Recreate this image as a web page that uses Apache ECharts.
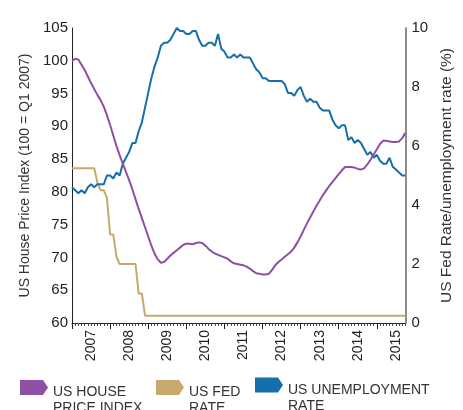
<!DOCTYPE html>
<html>
<head>
<meta charset="utf-8">
<script src="https://cdn.jsdelivr.net/npm/echarts@6/dist/echarts.min.js"></script>
<style>
html,body{margin:0;padding:0;background:#fff;}
#chart{width:463px;height:410px;}
</style>
</head>
<body>
<div id="chart"></div>
<script>
// Year labels for the x axis (monthly data Jan 2007 - Oct 2015)
var years = ['2007','2008','2009','2010','2011','2012','2013','2014','2015'];
var monthsInLastYear = 10;

// US House Price Index (100 = Q1 2007), monthly
var housePrice = [
  100.0,100.3,100.2,99.4,98.6,97.6,96.6,95.7,94.8,94.0,93.0,91.7,
  90.2,88.6,87.0,85.6,84.3,83.0,81.8,80.4,78.9,77.4,76.0,74.6,
  73.2,71.8,70.6,69.7,69.2,69.3,69.8,70.3,70.7,71.1,71.5,71.9,
  72.1,72.1,72.0,72.2,72.3,72.2,71.8,71.3,70.9,70.6,70.4,70.2,
  70.0,69.8,69.4,69.1,69.0,68.9,68.8,68.6,68.3,67.9,67.6,67.5,
  67.4,67.4,67.5,68.1,68.8,69.3,69.7,70.1,70.5,70.9,71.5,72.3,
  73.2,74.2,75.2,76.1,77.0,77.9,78.7,79.5,80.2,80.9,81.5,82.1,
  82.7,83.3,83.8,83.8,83.8,83.7,83.5,83.4,83.6,84.2,84.9,85.7,
  86.5,87.3,87.8,87.8,87.7,87.6,87.6,87.7,88.2,89.0
];

// US Fed rate (%), monthly
var fedRate = [
  5.25,5.25,5.25,5.25,5.25,5.25,5.25,5.25,4.75,4.5,4.5,4.25,
  3.0,3.0,2.25,2.0,2.0,2.0,2.0,2.0,2.0,1.0,1.0,0.25,
  0.25,0.25,0.25,0.25,0.25,0.25,0.25,0.25,0.25,0.25,0.25,0.25,
  0.25,0.25,0.25,0.25,0.25,0.25,0.25,0.25,0.25,0.25,0.25,0.25,
  0.25,0.25,0.25,0.25,0.25,0.25,0.25,0.25,0.25,0.25,0.25,0.25,
  0.25,0.25,0.25,0.25,0.25,0.25,0.25,0.25,0.25,0.25,0.25,0.25,
  0.25,0.25,0.25,0.25,0.25,0.25,0.25,0.25,0.25,0.25,0.25,0.25,
  0.25,0.25,0.25,0.25,0.25,0.25,0.25,0.25,0.25,0.25,0.25,0.25,
  0.25,0.25,0.25,0.25,0.25,0.25,0.25,0.25,0.25,0.25
];

// US unemployment rate (%), monthly
var unemployment = [
  4.6,4.5,4.4,4.5,4.4,4.6,4.7,4.6,4.7,4.7,4.7,5.0,
  5.0,4.9,5.1,5.0,5.4,5.6,5.8,6.1,6.1,6.5,6.8,7.3,
  7.8,8.3,8.7,9.0,9.4,9.5,9.5,9.6,9.8,10.0,9.9,9.9,
  9.8,9.8,9.9,9.9,9.6,9.4,9.4,9.5,9.5,9.4,9.8,9.3,
  9.2,9.0,9.0,9.1,9.0,9.1,9.0,9.0,9.0,8.8,8.6,8.5,
  8.3,8.3,8.2,8.2,8.2,8.2,8.2,8.1,7.8,7.8,7.7,7.9,
  8.0,7.7,7.5,7.6,7.5,7.5,7.3,7.2,7.2,7.2,6.9,6.7,
  6.6,6.7,6.7,6.2,6.3,6.1,6.2,6.1,5.9,5.7,5.8,5.6,
  5.7,5.5,5.4,5.4,5.6,5.3,5.2,5.1,5.0,5.0
];

var seriesNames = ['US HOUSE\nPRICE INDEX', 'US FED\nRATE', 'US UNEMPLOYMENT\nRATE'];
var colors = ['#8e50a5', '#c8a86e', '#166eaa'];

var months = [];
years.forEach(function (y, yi) {
  var n = (yi === years.length - 1) ? monthsInLastYear : 12;
  for (var m = 1; m <= n; m++) months.push(y + '-' + (m < 10 ? '0' + m : m));
});

var FONT = '"Liberation Sans", Arial, Helvetica, sans-serif';
var arrow = 'path://M0,0 L23,0 L28,7.5 L23,15 L0,15 Z';

function legendFor(i, left, top) {
  return {
    data: [seriesNames[i]],
    left: left, top: top,
    icon: arrow, itemWidth: 28, itemHeight: 15,
    itemGap: 0, padding: 0,
    selectedMode: false,
    formatter: function (name) {
      return '{s| }\n' + name.split('\n').map(function (l) { return '{t|' + l + '}'; }).join('\n');
    },
    textStyle: {
      fontFamily: FONT, fontSize: 14, color: '#333',
      rich: {
        s: { height: 26, lineHeight: 26, fontSize: 2 },
        t: { fontFamily: FONT, fontSize: 14, color: '#333', lineHeight: 16, height: 16 }
      }
    }
  };
}

var chart = echarts.init(document.getElementById('chart'), null, { renderer: 'canvas' });
chart.setOption({
  animation: false,
  color: colors,
  textStyle: { fontFamily: FONT },
  grid: { left: 72, right: 54, top: 28, bottom: 87, containLabel: false },
  legend: [legendFor(0, 20, 358.5), legendFor(1, 156, 358.5), legendFor(2, 255, 356)],
  xAxis: [{
    type: 'category', data: months, boundaryGap: false, position: 'bottom',
    axisLine: { show: true, lineStyle: { color: '#222', width: 1 } },
    axisTick: { show: true, interval: 0, length: 3, lineStyle: { color: '#444' } },
    axisLabel: {
      interval: function (i) { return i % 12 === 6; },
      formatter: function (v) { return v.slice(0, 4); },
      rotate: 90, margin: 7, fontSize: 14, color: '#222', fontFamily: FONT
    },
    splitLine: { show: false }
  }, {
    type: 'category', data: months, boundaryGap: false, position: 'bottom',
    axisLine: { show: false },
    axisTick: { show: true, interval: function (i) { return i % 12 === 0; }, length: 6, lineStyle: { color: '#222' } },
    axisLabel: { show: false },
    splitLine: { show: false }
  }],
  yAxis: [{
    type: 'value', min: 60, max: 105, interval: 5, position: 'left',
    name: 'US House Price Index (100 = Q1 2007)', nameLocation: 'middle', nameRotate: 90, nameGap: 39,
    nameTextStyle: { fontSize: 14, color: '#333', fontFamily: FONT },
    axisLine: { show: true, lineStyle: { color: '#222', width: 1 } },
    axisTick: { show: false },
    axisLabel: { fontSize: 15, color: '#222', margin: 4, fontFamily: FONT },
    splitLine: { show: false }
  }, {
    type: 'value', min: 0, max: 10, interval: 2, position: 'right',
    name: 'US Fed Rate/unemployment rate (%)', nameLocation: 'middle', nameRotate: 90, nameGap: 20,
    nameTextStyle: { fontSize: 15.5, color: '#333', fontFamily: FONT },
    axisLine: { show: true, lineStyle: { color: '#666', width: 1.5 } },
    axisTick: { show: false },
    axisLabel: { fontSize: 15, color: '#222', margin: 6, fontFamily: FONT },
    splitLine: { show: false }
  }],
  series: [{
    name: seriesNames[0], type: 'line', xAxisIndex: 0, yAxisIndex: 0,
    data: housePrice, symbol: 'none', lineStyle: { width: 2, color: colors[0] }, z: 3
  }, {
    name: seriesNames[1], type: 'line', xAxisIndex: 0, yAxisIndex: 1,
    data: fedRate, symbol: 'none', lineStyle: { width: 2, color: colors[1] }, z: 2
  }, {
    name: seriesNames[2], type: 'line', xAxisIndex: 0, yAxisIndex: 1,
    data: unemployment, symbol: 'none', lineStyle: { width: 2, color: colors[2] }, z: 2
  }]
});
</script>
</body>
</html>
